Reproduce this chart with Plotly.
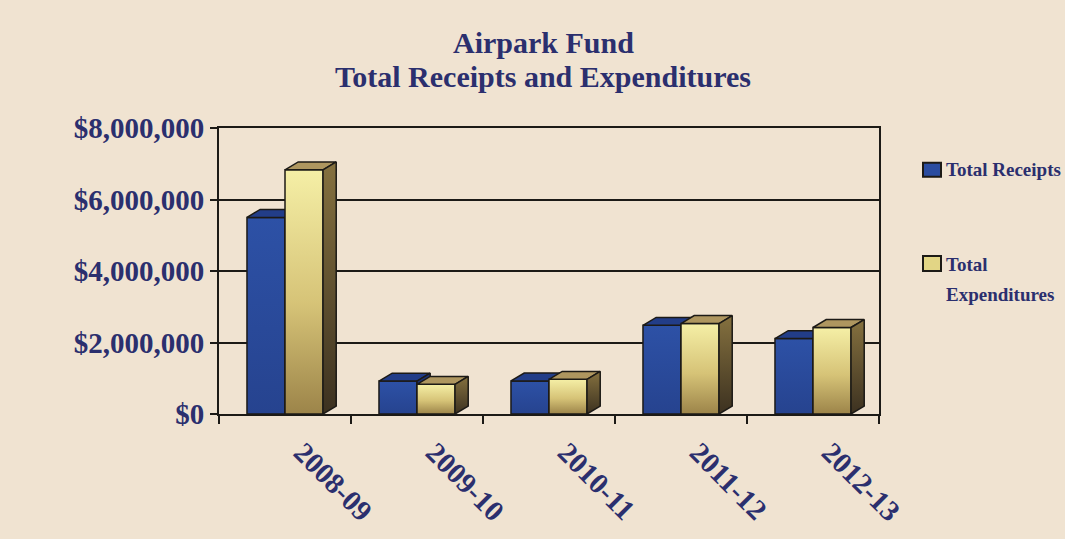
import plotly.graph_objects as go

# ---- data -------------------------------------------------------------
years = ["2008-09", "2009-10", "2010-11", "2011-12", "2012-13"]
receipts = [5500000, 920000, 925000, 2480000, 2110000]
expenditures = [6830000, 830000, 970000, 2530000, 2420000]
series_names = ["Total Receipts", "Total Expenditures"]

# ---- styling ----------------------------------------------------------
W, H = 1065, 539
PLOT_L, PLOT_R, PLOT_T, PLOT_B = 219, 879, 128, 416
BG = "#f0e3d1"
INK = "#2b2f6e"
EDGE = "#1c1a16"
SERIF = "Liberation Serif"

BAR_W = 0.288          # bar width in category units
DEPTH_X = 0.100        # pseudo-3D depth offset (category units)
DEPTH_Y = 222000       # pseudo-3D depth offset (value units)
LABEL_NUDGE = 0.13     # slanted year labels sit a little right of the group centre

styles = [
    dict(front=[[0, "#26438f"], [1, "#2d51a6"]],
         top="#223d88",
         side=[[0, "#14265e"], [1, "#1d3478"]],
         swatch="#2a4ca0"),
    dict(front=[[0, "#9c8449"], [0.45, "#d6c377"], [1, "#f5efa6"]],
         top="#ae965f",
         side=[[0, "#3c3120"], [1, "#85713f"]],
         swatch="#e2d585"),
]


def face(xs, ys, fill, grad=None):
    kw = dict(fillgradient=dict(type="vertical", colorscale=grad)) if grad else dict(fillcolor=fill)
    return go.Scatter(x=xs + [xs[0]], y=ys + [ys[0]], mode="lines", fill="toself",
                      line=dict(color=EDGE, width=1.5), hoverinfo="skip",
                      showlegend=False, **kw)


fig = go.Figure()

for i, year in enumerate(years):
    c = i + 0.5
    for s, values in enumerate([receipts, expenditures]):
        v = values[i]
        st = styles[s]
        x0 = c - BAR_W + s * BAR_W
        x1 = x0 + BAR_W
        # front face
        fig.add_trace(face([x0, x1, x1, x0], [0, 0, v, v], None, st["front"]))
        # top face
        fig.add_trace(face([x0, x1, x1 + DEPTH_X, x0 + DEPTH_X],
                           [v, v, v + DEPTH_Y, v + DEPTH_Y], st["top"]))
        # side face
        fig.add_trace(face([x1, x1 + DEPTH_X, x1 + DEPTH_X, x1],
                           [0, DEPTH_Y, v + DEPTH_Y, v], None, st["side"]))


def px_x(px):
    return (px - PLOT_L) / (PLOT_R - PLOT_L)


def px_y(py):
    return (PLOT_B - py) / (PLOT_B - PLOT_T)


# ---- legend (swatches + labels) -----------------------------------------
legend_font = dict(family=SERIF, size=19, color=INK, weight="bold")
legend_rows = [(163, 177), (257, 272)]
for s, (ty, by) in enumerate(legend_rows):
    fig.add_shape(type="rect", xref="paper", yref="paper",
                  x0=px_x(923), x1=px_x(941), y0=px_y(by), y1=px_y(ty),
                  fillcolor=styles[s]["swatch"], line=dict(color=EDGE, width=2))

legend_lines = [("Total Receipts", 170), ("Total", 265), ("Expenditures", 296)]
for text, mid in legend_lines:
    fig.add_annotation(text=text, xref="paper", yref="paper",
                       x=px_x(944), y=px_y(mid), xanchor="left", yanchor="middle",
                       showarrow=False, font=legend_font)

# ---- title ------------------------------------------------------------
title_lines = ["Airpark Fund", "Total Receipts and Expenditures"]
for line, base in zip(title_lines, [54, 88]):
    fig.add_annotation(text=line, xref="paper", yref="paper",
                       x=px_x(543), y=px_y(base + 7), xanchor="center", yanchor="bottom",
                       showarrow=False, font=dict(family=SERIF, size=30, color=INK, weight="bold"))

axis_font = dict(family=SERIF, size=29, color=INK, weight="bold")

fig.update_layout(
    width=W, height=H,
    margin=dict(l=PLOT_L, r=W - PLOT_R, t=PLOT_T, b=H - PLOT_B, pad=0),
    paper_bgcolor=BG, plot_bgcolor=BG,
    showlegend=False,
    xaxis=dict(range=[0, 5], tickvals=[i + 0.5 + LABEL_NUDGE for i in range(len(years))],
               ticktext=years, tickangle=45, ticks="", tickfont=axis_font,
               ticklabelstandoff=8, showgrid=False, zeroline=False,
               showline=True, linecolor=EDGE, linewidth=2, mirror=True,
               minor=dict(tickvals=list(range(len(years) + 1)), ticks="outside",
                          ticklen=8, tickwidth=2, tickcolor=EDGE, showgrid=False)),
    yaxis=dict(range=[0, 8000000], dtick=2000000, tickformat="$,.0f", tickfont=axis_font,
               ticks="outside", ticklen=7, tickwidth=2, tickcolor=EDGE,
               showgrid=True, gridcolor=EDGE, gridwidth=2, zeroline=False,
               showline=True, linecolor=EDGE, linewidth=2, mirror=True),
)

fig.write_html("out.html")
